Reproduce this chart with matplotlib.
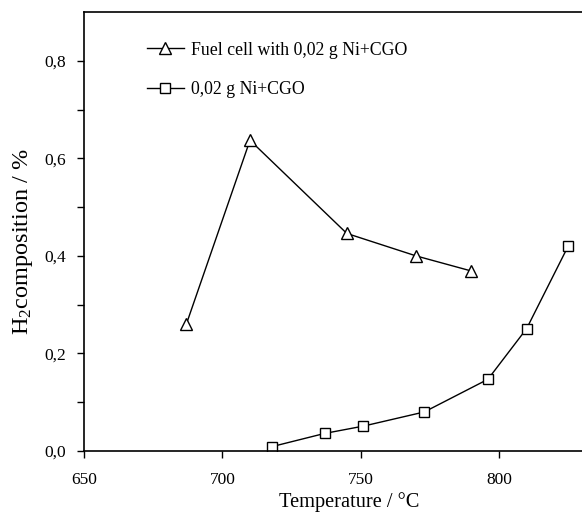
import matplotlib
matplotlib.use("Agg")
import matplotlib.pyplot as plt
from matplotlib.ticker import MultipleLocator, FixedLocator, FuncFormatter

plt.rcParams['font.family'] = ['Liberation Serif', 'DejaVu Serif']
plt.rcParams['mathtext.fontset'] = 'custom'
plt.rcParams['mathtext.rm'] = 'Liberation Serif'
plt.rcParams['mathtext.it'] = 'Liberation Serif:italic'

fc_temp = [687, 710, 745, 770, 790]
fc_h2 = [0.26, 0.637, 0.446, 0.400, 0.369]
cat_temp = [718, 737, 751, 773, 796, 810, 825]
cat_h2 = [0.009, 0.036, 0.051, 0.080, 0.147, 0.251, 0.420]
labels = ["Fuel cell with 0,02 g Ni+CGO", "0,02 g Ni+CGO"]
xticks = [650, 700, 750, 800]
yminor = [0.1, 0.3, 0.5, 0.7]

fig = plt.figure(figsize=(5.82, 5.13), dpi=100)
ax = fig.add_axes([0.1443, 0.1209, 0.8557, 0.8557])

ax.plot(fc_temp, fc_h2, color='black', lw=1.0, marker='^', ms=8,
        mfc='white', mec='black', mew=1.0, label=labels[0])
ax.plot(cat_temp, cat_h2, color='black', lw=1.0, marker='s', ms=7,
        mfc='white', mec='black', mew=1.0, label=labels[1])

ax.set_xlim(650, 830)
ax.set_ylim(0, 0.9)
ax.set_xticks(xticks)
ax.yaxis.set_major_locator(MultipleLocator(0.2))
ax.yaxis.set_minor_locator(FixedLocator(yminor))
ax.yaxis.set_major_formatter(FuncFormatter(lambda v, p: f"{v:.1f}".replace('.', ',')))
ax.tick_params(which='both', direction='out', length=5, width=1, labelsize=12.5)
ax.tick_params(axis='x', pad=10)
ax.tick_params(axis='y', pad=8)
ax.spines['right'].set_visible(False)
for s in ['top', 'left', 'bottom']:
    ax.spines[s].set_linewidth(1.2)

ax.set_xlabel("Temperature / °C", fontsize=14.7)
ax.set_ylabel(r"H$_2$composition / %", fontsize=17.5)
ax.xaxis.set_label_coords(0.533, -0.093)
ax.yaxis.set_label_coords(-0.099, 0.477)

ax.legend(loc='upper left', bbox_to_anchor=(0.094, 0.969), frameon=False,
          fontsize=12.8, handlelength=2.07, handletextpad=0.4, labelspacing=1.25)

fig.savefig("out.png", dpi=100)
